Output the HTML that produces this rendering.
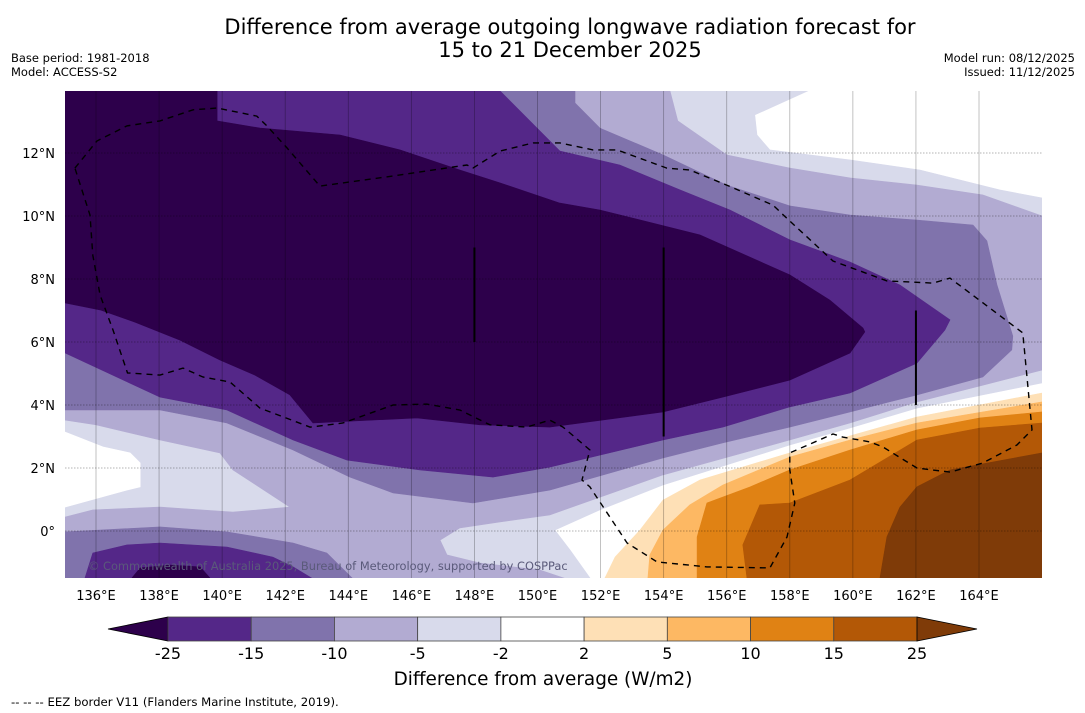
<!DOCTYPE html>
<html><head><meta charset="utf-8">
<style>
html,body{margin:0;padding:0;background:#fff;}
svg{display:block;font-family:"DejaVu Sans","Liberation Sans",sans-serif;}
</style></head>
<body>
<svg id="chart" width="1085" height="713" viewBox="0 0 1085 713" xmlns="http://www.w3.org/2000/svg">
<defs><clipPath id="plotclip"><rect x="65" y="91" width="977" height="487"/></clipPath></defs>
<text x="570" y="34" text-anchor="middle" font-size="21" fill="#000">Difference from average outgoing longwave radiation forecast for</text>
<text x="570" y="57" text-anchor="middle" font-size="21" fill="#000">15 to 21 December 2025</text>
<text x="11" y="62" font-size="11.5">Base period: 1981-2018</text>
<text x="11" y="76" font-size="11.5">Model: ACCESS-S2</text>
<text x="1075" y="62" font-size="11.5" text-anchor="end">Model run: 08/12/2025</text>
<text x="1075" y="76" font-size="11.5" text-anchor="end">Issued: 11/12/2025</text>
<g id="plot" clip-path="url(#plotclip)">
<rect x="65" y="91" width="977" height="487" fill="#ffffff"/>
<g id="fills"></g><g id="grid"></g><g id="overlay"></g>
</g>
<g id="axes"></g>
<g id="colorbar"></g>
<text x="543" y="685" text-anchor="middle" font-size="18.4">Difference from average (W/m2)</text>
<text x="11" y="706" font-size="11.7">--  --  -- EEZ border V11 (Flanders Marine Institute, 2019).</text>
</svg>
<script>
// ---- contour data (lon, lat) ----
const levelColors = ["#d8daeb","#ffffff","#b2abd2","#8073ac","#8073ac","#542788","#542788","#2d004b","#2d004b","#fee0b6","#fdb863","#e08214","#b35806","#7f3b08"];
const levelNames = ["le-minus2","white-patch","le-minus5","le-minus10","le-minus10-south","le-minus15","le-minus15-south","le-minus25","le-minus25-south","ge-2","ge-5","ge-10","ge-15","ge-25"];
const polyM2 = [[134.5,14.5],[158.57,14.5],[158.57,13.97],[156.89,13.21],[156.96,12.57],[157.37,12.10],[159.91,11.78],[162.13,11.46],[164.66,10.83],[166,10.57],[166.5,10.57],[166.5,4.70],[166,4.70],[162.03,3.90],[159.91,3.27],[158.0,2.73],[153.98,1.46],[151.98,0.67],[150.55,0.03],[151.03,-0.60],[151.66,-1.49],[151.7,-2],[134.5,-2]];
const polyWhiteLeft = [[134.5,3.14],[135.02,3.14],[136.22,2.67],[137.08,2.48],[137.40,2.16],[137.40,1.40],[136.98,1.30],[135.02,0.76],[134.5,0.76]];
const polyM5 = [[134.5,14.5],[154.2,14.5],[154.2,13.97],[154.45,13.02],[156.0,11.94],[158.0,11.52],[159.91,11.21],[162.03,10.98],[164.12,10.67],[166,10.0],[166.5,10.0],[166.5,5.11],[166,5.11],[164.12,4.63],[162.03,4.10],[159.91,3.43],[158.0,2.89],[153.98,1.78],[150.39,0.51],[148.81,0.29],[147.54,0.10],[146.91,-0.29],[147.13,-0.76],[148.18,-1.02],[150.08,-1.24],[151.03,-1.56],[151.1,-2],[134.5,-2],[134.5,0.44],[135.02,0.44],[135.90,0.67],[138.03,0.76],[140.34,0.60],[142.15,0.76],[140.34,1.94],[139.93,2.48],[138.03,2.89],[136.0,3.37],[135.02,3.52],[134.5,3.52]];
const polyM10 = [[134.5,14.5],[151.19,14.5],[151.19,13.59],[151.98,12.79],[153.98,11.94],[156.0,10.98],[158.0,10.32],[159.91,10.03],[162.03,9.87],[163.81,9.71],[164.25,9.21],[164.57,7.81],[165.07,6.19],[165.04,5.75],[164.12,4.89],[162.03,4.32],[159.91,3.78],[158.0,3.30],[155.88,2.80],[153.98,2.32],[150.39,1.30],[147.95,0.89],[145.42,1.21],[144.05,1.71],[142.25,2.57],[140.15,3.43],[138.03,3.84],[135.02,3.84],[134.5,3.84]];
const polyM10s = [[134.5,-2],[134.5,-0.03],[135.02,-0.03],[138.03,0.13],[140.15,-0.03],[142.25,-0.38],[143.32,-0.70],[144.15,-1.52],[144.2,-2]];
const polyM15 = [[134.5,14.5],[148.81,14.5],[148.81,13.97],[150.71,12.06],[152.61,11.62],[154.52,10.83],[156.10,10.19],[158.0,9.24],[159.91,8.54],[161.49,7.81],[163.08,6.70],[162.92,6.38],[162.03,5.33],[159.91,4.38],[158.0,3.94],[155.88,3.30],[153.98,2.89],[150.39,2.03],[148.59,1.71],[146.27,1.94],[143.96,2.25],[142.25,2.89],[140.15,3.84],[138.03,4.25],[135.02,5.65],[134.5,5.65]];
const polyM15s = [[135.6,-2],[135.65,-1.49],[135.90,-0.70],[136.98,-0.44],[138.03,-0.38],[140.15,-0.51],[141.61,-0.83],[142.25,-1.14],[142.88,-1.52],[142.9,-2]];
const polyM25 = [[134.5,14.5],[139.84,14.5],[139.84,13.02],[141.2,12.79],[143.74,12.57],[145.64,12.10],[147.54,11.46],[148.81,11.05],[150.71,10.41],[151.98,10.19],[155.15,9.40],[158.0,8.13],[159.27,7.33],[160.32,6.44],[160.38,6.32],[159.91,5.65],[158.0,4.79],[155.88,4.25],[153.98,3.78],[150.39,3.30],[148.17,3.37],[146.18,3.59],[142.88,3.43],[142.15,4.32],[141.04,4.95],[139.93,5.43],[138.66,6.06],[137.24,6.63],[136.13,7.02],[135.02,7.24],[134.5,7.24]];
const polyM25s = [[137.14,-2],[137.14,-1.49],[137.4,-1.17],[138.35,-1.08],[139.30,-1.14],[139.61,-1.49],[139.61,-2]];
const polyP2 = [[151.5,-2],[152.14,-1.49],[152.46,-0.83],[153.25,0.03],[153.98,0.98],[155.15,1.62],[158.0,2.48],[159.91,3.02],[162.03,3.62],[166,4.38],[166.5,4.38],[166.5,-2]];
const polyP5 = [[153.5,-2],[153.5,-1.49],[153.56,-0.76],[153.98,0.03],[154.83,0.83],[155.88,1.46],[158.0,2.35],[159.91,2.89],[162.03,3.43],[166,4.10],[166.5,4.10],[166.5,-2]];
const polyP10 = [[155.06,-2],[155.06,-1.49],[155.06,-0.19],[155.37,0.89],[156.74,1.40],[158.0,1.94],[159.91,2.57],[162.03,3.21],[164.03,3.59],[166,3.78],[166.5,3.78],[166.5,-2]];
const polyP15 = [[156.64,-2],[156.64,-1.49],[156.51,-0.44],[157.05,0.83],[158.0,0.89],[159.91,1.62],[162.03,2.89],[164.03,3.27],[166,3.43],[166.5,3.43],[166.5,-2]];
const polyP25 = [[160.86,-2],[160.86,-1.49],[161.08,-0.19],[161.49,0.76],[162.03,1.40],[163.08,1.94],[166,2.48],[166.5,2.48],[166.5,-2]];
const eezBorder = [[135.33,11.52],[136.03,12.38],[136.98,12.86],[138.03,13.02],[139.08,13.37],[139.84,13.43],[141.10,13.17],[141.42,12.86],[142.06,12.16],[143.10,10.95],[145.42,11.27],[147.76,11.62],[147.95,11.52],[148.81,12.06],[149.86,12.32],[150.71,12.32],[151.76,12.10],[152.52,12.10],[154.10,11.52],[154.83,11.46],[156.0,10.98],[157.46,10.35],[158.0,9.84],[159.37,8.57],[161.08,7.94],[162.54,7.87],[163.08,8.03],[165.39,6.29],[165.68,3.21],[165.20,2.73],[164.12,2.16],[163.08,1.87],[162.03,2.0],[160.95,2.67],[160.54,2.83],[159.68,2.98],[159.37,3.08],[158.0,2.48],[158.0,1.94],[158.16,0.89],[157.91,-0.19],[157.37,-1.17],[155.37,-1.14],[153.79,-0.98],[152.84,-0.38],[151.66,1.40],[151.41,1.62],[151.66,2.57],[150.81,3.30],[150.39,3.52],[149.66,3.30],[148.49,3.37],[147.54,3.84],[146.49,4.03],[145.42,4.0],[143.83,3.43],[142.79,3.30],[141.20,3.90],[140.25,4.73],[139.39,4.89],[138.76,5.17],[138.03,4.95],[137.0,5.02],[136.54,6.38],[136.13,7.49],[135.90,8.76],[135.81,10.03],[135.33,11.52]];
const artifactLines = [[148.0,6.0,9.0],[154.0,3.0,9.0],[162.0,4.0,7.0]];
const lonTicks = [136,138,140,142,144,146,148,150,152,154,156,158,160,162,164];
const latTicks = [0,2,4,6,8,10,12];
const cbarLabels = ["-25","-15","-10","-5","-2","2","5","10","15","25"];
const cbarColors = ["#542788","#8073ac","#b2abd2","#d8daeb","#ffffff","#fee0b6","#fdb863","#e08214","#b35806"];

const polys = [polyM2,polyWhiteLeft,polyM5,polyM10,polyM10s,polyM15,polyM15s,polyM25,polyM25s,polyP2,polyP5,polyP10,polyP15,polyP25];

// ---- axis functions ----
const xS = lon => 96 + (lon - 136) * 31.536;
const yS = lat => 531 - lat * 31.5;
const NS = "http://www.w3.org/2000/svg";
function mk(tag, attrs, parent){const e=document.createElementNS(NS,tag);for(const k in attrs)e.setAttribute(k,attrs[k]);parent.appendChild(e);return e;}

const fills = document.getElementById('fills');
polys.forEach((p,i)=>{
  const el = mk('polygon',{points:p.map(q=>xS(q[0]).toFixed(1)+','+yS(q[1]).toFixed(1)).join(' '),fill:levelColors[i],stroke:levelColors[i],'stroke-width':0.6},fills);
  
  
});

const grid = document.getElementById('grid');
lonTicks.forEach(l=>{
  const g = mk('line',{x1:xS(l),x2:xS(l),y1:91,y2:578,stroke:'#000','stroke-opacity':0.3,'stroke-width':0.8},grid);
  
  
});
latTicks.forEach(l=>{
  const g = mk('line',{x1:65,x2:1042,y1:yS(l),y2:yS(l),stroke:'#000','stroke-opacity':0.4,'stroke-width':0.8,'stroke-dasharray':'1.5,1.5'},grid);
  
  
});

const ov = document.getElementById('overlay');
artifactLines.forEach(a=>{
  const l = mk('line',{x1:xS(a[0]),x2:xS(a[0]),y1:yS(a[2]),y2:yS(a[1]),stroke:'#000','stroke-width':2},ov);
  
  
});
const eez = mk('polyline',{points:eezBorder.map(q=>xS(q[0]).toFixed(1)+','+yS(q[1]).toFixed(1)).join(' '),fill:'none',stroke:'#000','stroke-width':1.4,'stroke-dasharray':'6,5'},ov);


const cr = mk('text',{x:88,y:570,'font-size':11.4,fill:'#5a5a7a'},ov);
cr.textContent = '© Commonwealth of Australia 2025, Bureau of Meteorology, supported by COSPPac';



const axes = document.getElementById('axes');
lonTicks.forEach(l=>{
  const t = mk('text',{x:xS(l),y:600,'text-anchor':'middle','font-size':13},axes);
  t.textContent = l+'°E';
  
  
});
latTicks.forEach(l=>{
  const t = mk('text',{x:55,y:yS(l)+5,'text-anchor':'end','font-size':13},axes);
  t.textContent = l===0 ? '0°' : l+'°N';
  
  
});

const cb = document.getElementById('colorbar');
const cbX0 = 168, cbW = (917-168)/9, cbY = 617, cbH = 24;
const lt = mk('polygon',{points:`108,${cbY+cbH/2} ${cbX0},${cbY} ${cbX0},${cbY+cbH}`,fill:'#2d004b',stroke:'#000','stroke-width':0.8},cb);


cbarColors.forEach((c,i)=>{
  const r = mk('rect',{x:cbX0+i*cbW,y:cbY,width:cbW,height:cbH,fill:c,stroke:'#444','stroke-width':0.8},cb);
  
  
});
const rt = mk('polygon',{points:`977,${cbY+cbH/2} 917,${cbY} 917,${cbY+cbH}`,fill:'#7f3b08',stroke:'#000','stroke-width':0.8},cb);


cbarLabels.forEach((s,i)=>{
  const t = mk('text',{x:cbX0+i*cbW,y:659,'text-anchor':'middle','font-size':16},cb);
  t.textContent = s;
  
  
});
</script>
</body></html>
